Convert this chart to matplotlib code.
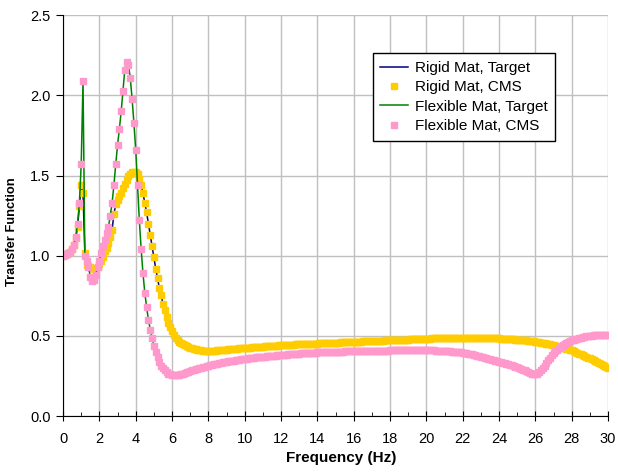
import numpy as np
import matplotlib
matplotlib.use("Agg")
import matplotlib.pyplot as plt

plt.rcParams['font.family'] = ['Liberation Sans', 'DejaVu Sans']

# frequency axis, 0.1 Hz steps
freq = np.round(np.arange(0, 301) * 0.1, 1)

# rigid mat transfer function (one row per Hz)
rigid = [
    1.00, 1.005, 1.01, 1.015, 1.025, 1.04, 1.065, 1.11, 1.18, 1.31,
    1.44, 1.39, 1.02, 0.94, 0.935, 0.93, 0.925, 0.92, 0.92, 0.93,
    0.95, 0.97, 0.995, 1.03, 1.05, 1.08, 1.12, 1.16, 1.26, 1.32,
    1.35, 1.37, 1.39, 1.42, 1.45, 1.47, 1.495, 1.51, 1.52, 1.525,
    1.525, 1.51, 1.48, 1.44, 1.39, 1.33, 1.27, 1.20, 1.13, 1.06,
    0.99, 0.92, 0.86, 0.80, 0.755, 0.70, 0.66, 0.62, 0.58, 0.555,
    0.53, 0.505, 0.49, 0.475, 0.465, 0.455, 0.448, 0.441, 0.435, 0.43,
    0.426, 0.422, 0.419, 0.416, 0.414, 0.412, 0.41, 0.409, 0.408, 0.407,
    0.406, 0.406, 0.407, 0.408, 0.409, 0.410, 0.411, 0.412, 0.413, 0.414,
    0.415, 0.416, 0.417, 0.418, 0.419, 0.420, 0.421, 0.422, 0.423, 0.424,
    0.425, 0.426, 0.427, 0.428, 0.429, 0.430, 0.431, 0.432, 0.432, 0.433,
    0.434, 0.435, 0.436, 0.436, 0.437, 0.438, 0.439, 0.439, 0.440, 0.441,
    0.441, 0.442, 0.443, 0.443, 0.444, 0.445, 0.445, 0.446, 0.447, 0.447,
    0.448, 0.448, 0.449, 0.450, 0.450, 0.451, 0.451, 0.452, 0.452, 0.453,
    0.453, 0.454, 0.454, 0.455, 0.455, 0.456, 0.456, 0.457, 0.457, 0.458,
    0.458, 0.459, 0.459, 0.460, 0.460, 0.461, 0.461, 0.462, 0.462, 0.463,
    0.463, 0.464, 0.464, 0.465, 0.465, 0.466, 0.466, 0.467, 0.467, 0.468,
    0.468, 0.469, 0.469, 0.470, 0.470, 0.471, 0.471, 0.472, 0.472, 0.473,
    0.473, 0.474, 0.474, 0.475, 0.475, 0.476, 0.476, 0.477, 0.477, 0.478,
    0.478, 0.479, 0.479, 0.480, 0.480, 0.481, 0.481, 0.482, 0.482, 0.483,
    0.483, 0.484, 0.484, 0.485, 0.485, 0.486, 0.486, 0.487, 0.487, 0.487,
    0.488, 0.488, 0.488, 0.489, 0.489, 0.489, 0.489, 0.490, 0.490, 0.490,
    0.490, 0.490, 0.490, 0.490, 0.490, 0.490, 0.490, 0.490, 0.489, 0.489,
    0.489, 0.489, 0.488, 0.488, 0.488, 0.487, 0.487, 0.486, 0.486, 0.485,
    0.485, 0.484, 0.483, 0.482, 0.481, 0.481, 0.480, 0.479, 0.479, 0.478,
    0.477, 0.476, 0.475, 0.474, 0.473, 0.472, 0.471, 0.470, 0.469, 0.467,
    0.465, 0.463, 0.461, 0.459, 0.457, 0.455, 0.453, 0.451, 0.448, 0.446,
    0.443, 0.440, 0.437, 0.434, 0.431, 0.428, 0.425, 0.421, 0.418, 0.414,
    0.410, 0.405, 0.400, 0.395, 0.390, 0.385, 0.380, 0.375, 0.370, 0.365,
    0.360, 0.354, 0.348, 0.342, 0.336, 0.330, 0.324, 0.318, 0.312, 0.306,
    0.300,
]

# flexible mat transfer function (one row per Hz)
flexible = [
    1.00, 1.005, 1.01, 1.015, 1.025, 1.04, 1.07, 1.12, 1.20, 1.33,
    1.57, 2.09, 1.00, 0.97, 0.93, 0.87, 0.84, 0.85, 0.88, 0.93,
    0.97, 1.02, 1.06, 1.10, 1.14, 1.18, 1.25, 1.33, 1.44, 1.57,
    1.69, 1.79, 1.90, 2.03, 2.16, 2.21, 2.19, 2.11, 1.98, 1.83,
    1.66, 1.44, 1.22, 1.04, 0.89, 0.77, 0.68, 0.60, 0.54, 0.49,
    0.44, 0.40, 0.37, 0.34, 0.315, 0.30, 0.285, 0.275, 0.265, 0.26,
    0.257, 0.256, 0.256, 0.257, 0.259, 0.262, 0.265, 0.269, 0.273, 0.277,
    0.281, 0.285, 0.289, 0.293, 0.297, 0.300, 0.303, 0.306, 0.309, 0.312,
    0.315, 0.318, 0.321, 0.323, 0.326, 0.328, 0.331, 0.333, 0.335, 0.337,
    0.339, 0.341, 0.343, 0.345, 0.347, 0.349, 0.351, 0.352, 0.354, 0.356,
    0.357, 0.359, 0.360, 0.362, 0.363, 0.365, 0.366, 0.367, 0.369, 0.370,
    0.371, 0.372, 0.373, 0.374, 0.375, 0.376, 0.377, 0.378, 0.379, 0.380,
    0.381, 0.382, 0.383, 0.384, 0.385, 0.386, 0.387, 0.388, 0.388, 0.389,
    0.390, 0.391, 0.391, 0.392, 0.393, 0.393, 0.394, 0.395, 0.395, 0.396,
    0.397, 0.397, 0.398, 0.398, 0.399, 0.399, 0.400, 0.400, 0.401, 0.401,
    0.402, 0.402, 0.403, 0.403, 0.403, 0.404, 0.404, 0.404, 0.405, 0.405,
    0.405, 0.406, 0.406, 0.406, 0.406, 0.407, 0.407, 0.407, 0.407, 0.408,
    0.408, 0.408, 0.408, 0.408, 0.409, 0.409, 0.409, 0.409, 0.409, 0.409,
    0.410, 0.410, 0.410, 0.411, 0.411, 0.411, 0.411, 0.412, 0.412, 0.412,
    0.412, 0.412, 0.412, 0.412, 0.412, 0.412, 0.411, 0.411, 0.411, 0.411,
    0.411, 0.411, 0.410, 0.410, 0.410, 0.409, 0.409, 0.408, 0.408, 0.407,
    0.407, 0.406, 0.405, 0.404, 0.403, 0.402, 0.401, 0.400, 0.399, 0.397,
    0.395, 0.393, 0.391, 0.389, 0.387, 0.385, 0.382, 0.380, 0.377, 0.374,
    0.371, 0.368, 0.365, 0.362, 0.359, 0.356, 0.353, 0.350, 0.347, 0.344,
    0.340, 0.337, 0.334, 0.331, 0.328, 0.325, 0.321, 0.317, 0.313, 0.309,
    0.305, 0.300, 0.295, 0.290, 0.285, 0.280, 0.275, 0.270, 0.266, 0.263,
    0.262, 0.266, 0.274, 0.285, 0.299, 0.315, 0.332, 0.349, 0.365, 0.379,
    0.392, 0.404, 0.415, 0.425, 0.434, 0.442, 0.449, 0.456, 0.462, 0.467,
    0.472, 0.476, 0.480, 0.484, 0.487, 0.490, 0.493, 0.495, 0.497, 0.499,
    0.500, 0.502, 0.503, 0.504, 0.505, 0.506, 0.507, 0.507, 0.508, 0.508,
    0.508,
]

fig = plt.figure(figsize=(6.18, 4.74), dpi=100)
ax = fig.add_axes([0.102, 0.122, 0.882, 0.846])

ax.plot(freq, rigid, color='#000080', lw=1.1, label='Rigid Mat, Target')
ax.plot(freq, rigid, ls='none', marker='s', ms=4, color='#FFCC00', mec='#FFCC00',
        label='Rigid Mat, CMS')
ax.plot(freq, flexible, color='#008000', lw=1.1, label='Flexible Mat, Target')
ax.plot(freq, flexible, ls='none', marker='s', ms=4, color='#FF99CC', mec='#FF99CC',
        label='Flexible Mat, CMS')

ax.set_xlim(0, 30)
ax.set_ylim(0, 2.5)
ax.set_xticks(np.arange(0, 31, 2))
ax.set_xticks(np.arange(1, 30, 2), minor=True)
ax.set_yticks(np.arange(0, 2.51, 0.5))
ax.set_yticklabels([f'{v:.1f}' for v in np.arange(0, 2.51, 0.5)])
ax.grid(True, color='#c0c0c0', lw=1)
ax.set_axisbelow(True)
for s in ['top', 'right']:
    ax.spines[s].set_visible(False)
ax.tick_params(axis='x', which='major', direction='inout', length=7, labelsize=10.5, pad=8)
ax.tick_params(axis='x', which='minor', direction='in', length=3)
ax.tick_params(axis='y', direction='out', length=5, labelsize=10.5, pad=4)

ax.set_xlabel('Frequency (Hz)', fontsize=11, fontweight='bold')
ax.set_ylabel('Transfer Function', fontsize=9.3, fontweight='bold')
ax.xaxis.set_label_coords(0.51, -0.088)
ax.yaxis.set_label_coords(-0.083, 0.46)

leg = ax.legend(loc='upper left', bbox_to_anchor=(0.568, 0.905), borderaxespad=0,
                fontsize=11, fancybox=False, framealpha=1, edgecolor='black',
                borderpad=0.5, labelspacing=0.35, handlelength=1.8,
                handletextpad=0.45)
leg.get_frame().set_linewidth(1)

fig.savefig('out.png', dpi=100)
